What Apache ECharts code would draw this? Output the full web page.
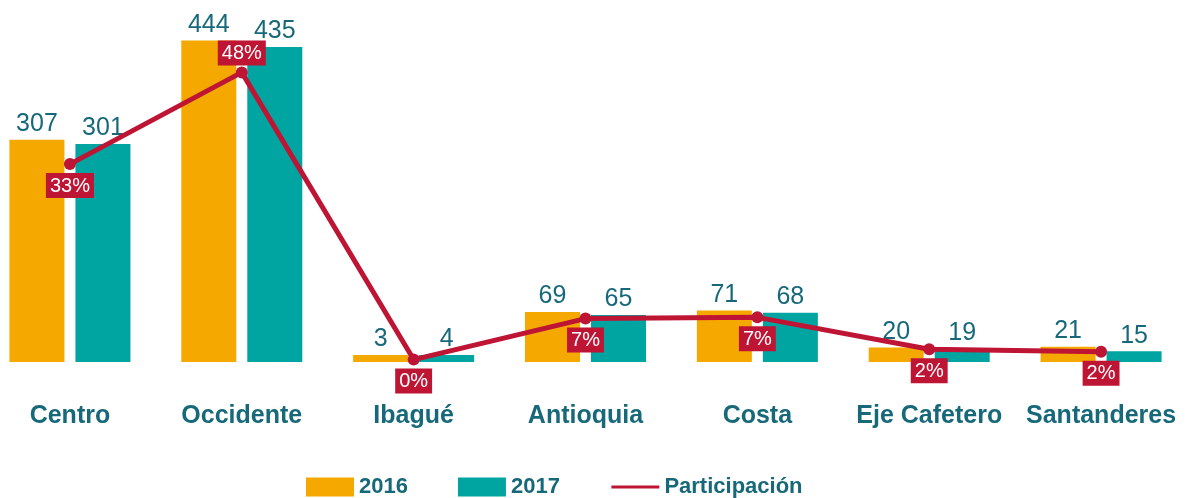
<!DOCTYPE html>
<html>
<head>
<meta charset="utf-8">
<script src="https://cdn.jsdelivr.net/npm/echarts@6/dist/echarts.min.js"></script>
<style>
  html, body { margin: 0; padding: 0; background: #fff; overflow: hidden; }
  #chart { width: 1213px; height: 498px; margin-left: -16px; }
</style>
</head>
<body>
<div id="chart"></div>
<script>
const categories = ['Centro', 'Occidente', 'Ibagué', 'Antioquia', 'Costa', 'Eje Cafetero', 'Santanderes'];
const values2016 = [307, 444, 3, 69, 71, 20, 21];
const values2017 = [301, 435, 4, 65, 68, 19, 15];
const participacion = [32.8, 48.0, 0.4, 7.2, 7.4, 2.1, 1.7];

const textColor = '#17697A';
const font = '"Liberation Sans", Arial, sans-serif';

let chart = echarts.init(document.getElementById('chart'));
chart.setOption({
  animation: false,
  color: ['#F5A800', '#00A5A1', '#BE1535'],
  grid: {
    left: 0,
    right: 10,
    top: 0,
    bottom: 136
  },
  legend: {
    left: 317,
    top: 471,
    itemWidth: 48,
    itemHeight: 19,
    itemGap: 50,
    textStyle: {
      color: textColor,
      fontFamily: font,
      fontSize: 22,
      fontWeight: 'bold'
    },
    data: [
      { name: '2016', icon: 'rect' },
      { name: '2017', icon: 'rect' },
      { name: 'Participación', itemStyle: { opacity: 0 }, lineStyle: { width: 3 } }
    ]
  },
  xAxis: {
    type: 'category',
    data: categories,
    axisLine: { show: false },
    axisTick: { show: false },
    axisLabel: {
      color: textColor,
      fontFamily: font,
      fontSize: 25,
      fontWeight: 'bold',
      margin: 42,
      interval: 0
    }
  },
  yAxis: [
    { type: 'value', min: 0, max: 500, show: false },
    { type: 'value', min: 0, max: 60, show: false }
  ],
  series: [
    {
      name: '2016',
      type: 'bar',
      data: values2016,
      barWidth: 55,
      barGap: '20%',
      barMinHeight: 7,
      label: {
        show: true,
        position: 'top',
        distance: 3,
        color: textColor,
        fontFamily: font,
        fontSize: 25
      }
    },
    {
      name: '2017',
      type: 'bar',
      data: values2017,
      barWidth: 55,
      barMinHeight: 7,
      label: {
        show: true,
        position: 'top',
        distance: 3,
        color: textColor,
        fontFamily: font,
        fontSize: 25
      }
    },
    {
      name: 'Participación',
      type: 'line',
      yAxisIndex: 1,
      z: 5,
      data: participacion.map((v, i) => ({
        value: v,
        label: i === 1 ? { position: 'top', distance: 1 } : { position: 'bottom', distance: 3 }
      })),
      symbol: 'circle',
      symbolSize: 12,
      lineStyle: { width: 5, color: '#BE1535' },
      itemStyle: { color: '#BE1535' },
      label: {
        show: true,
        formatter: (p) => Math.round(p.value) + '%',
        color: '#fff',
        backgroundColor: '#BE1535',
        padding: [3, 4, 2, 4],
        fontFamily: font,
        fontSize: 20
      }
    }
  ]
});
</script>
</body>
</html>
